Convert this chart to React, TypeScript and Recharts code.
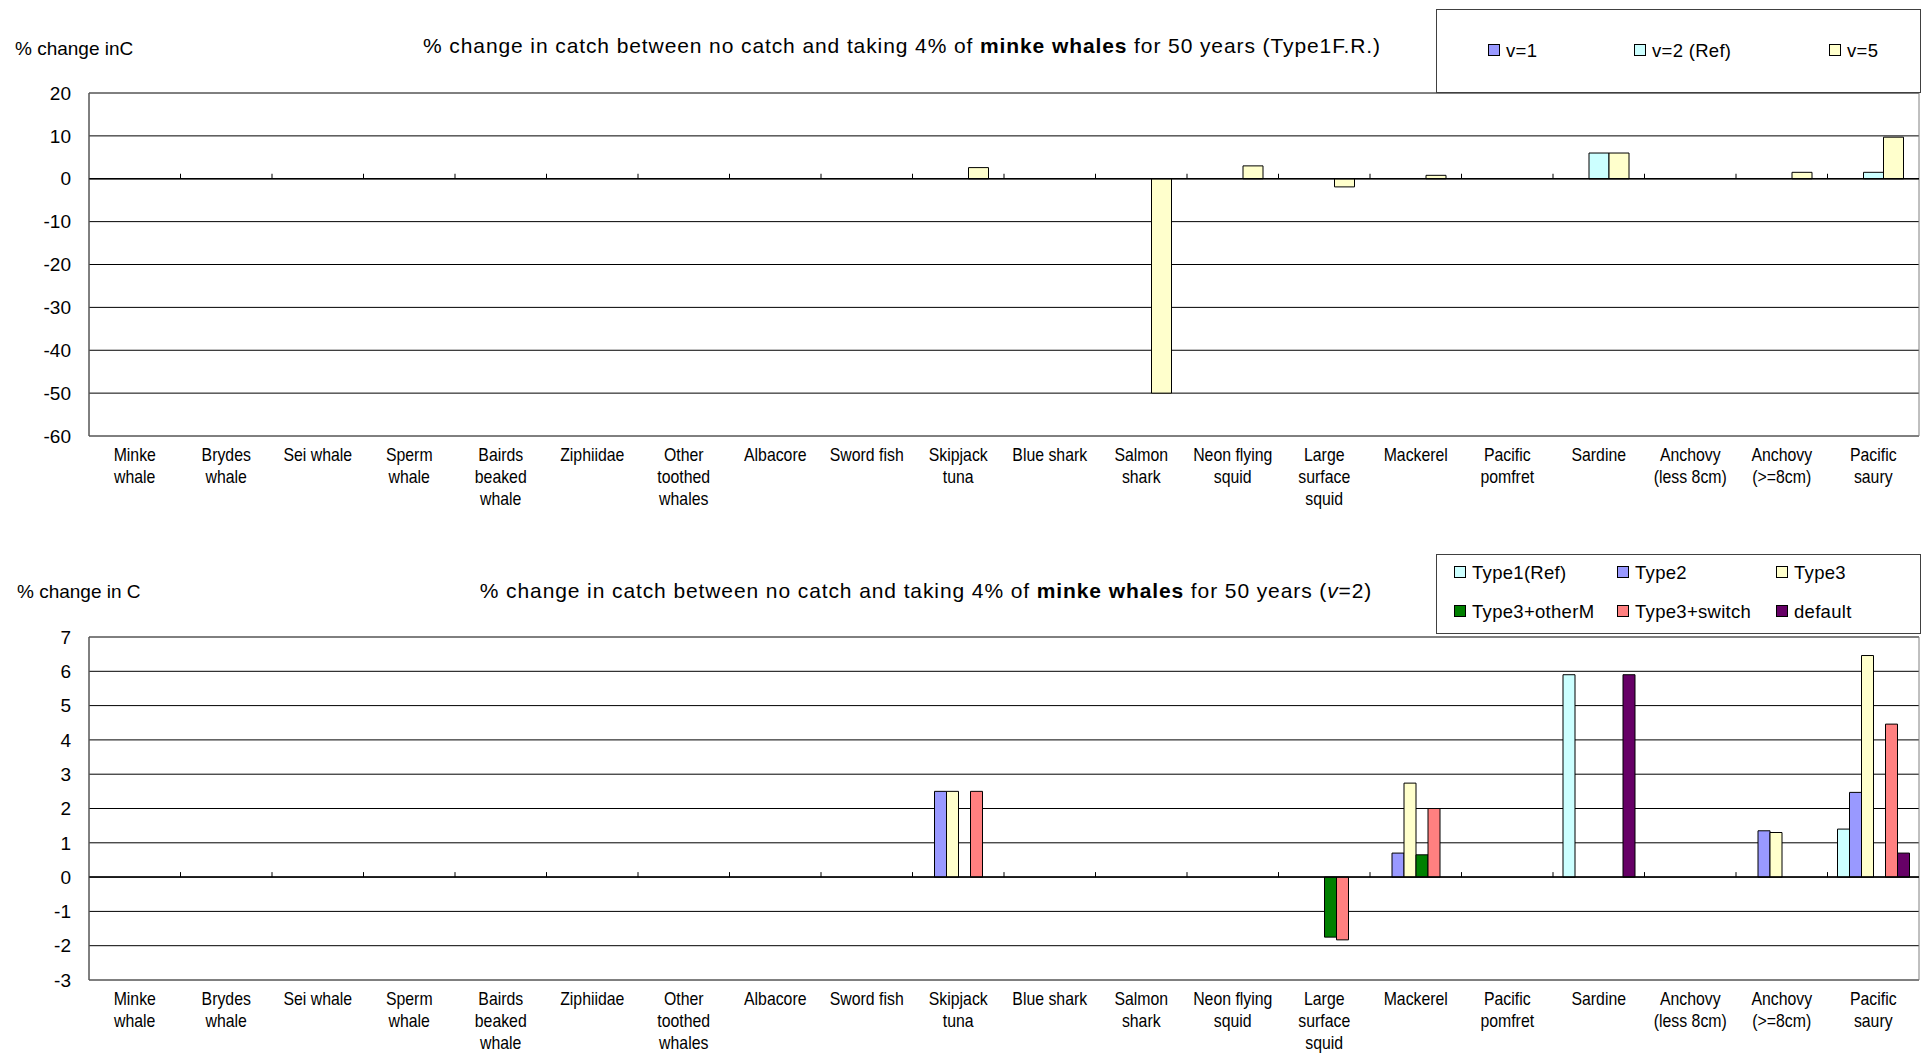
import React from 'react'
import { BarChart, Bar, XAxis, YAxis, CartesianGrid, ReferenceLine, ReferenceArea } from 'recharts'

const species = [
  'Minke\nwhale', 'Brydes\nwhale', 'Sei whale', 'Sperm\nwhale', 'Bairds\nbeaked\nwhale',
  'Ziphiidae', 'Other\ntoothed\nwhales', 'Albacore', 'Sword fish', 'Skipjack\ntuna',
  'Blue shark', 'Salmon\nshark', 'Neon flying\nsquid', 'Large\nsurface\nsquid', 'Mackerel',
  'Pacific\npomfret', 'Sardine', 'Anchovy\n(less 8cm)', 'Anchovy\n(>=8cm)', 'Pacific\nsaury',
]

// top chart: v sensitivity (Type1 F.R.)
const v1 = [0, 0, 0, 0, 0, 0, 0, 0, 0, 0, 0, 0, 0, 0, 0, 0, 0, 0, 0, 0]
const v2Ref = [0, 0, 0, 0, 0, 0, 0, 0, 0, 0, 0, 0, 0, 0, 0, 0, 6.0, 0, 0, 1.5]
const v5 = [0, 0, 0, 0, 0, 0, 0, 0, 0, 2.6, 0, -50, 3.0, -1.9, 0.8, 0, 6.0, 0, 1.5, 9.7]
const topTicks = [-60, -50, -40, -30, -20, -10, 0, 10, 20]

// bottom chart: functional response types (v=2)
const type1Ref = [0, 0, 0, 0, 0, 0, 0, 0, 0, 0, 0, 0, 0, 0, 0, 0, 5.9, 0, 0, 1.4]
const type2 = [0, 0, 0, 0, 0, 0, 0, 0, 0, 2.5, 0, 0, 0, 0, 0.7, 0, 0, 0, 1.35, 2.47]
const type3 = [0, 0, 0, 0, 0, 0, 0, 0, 0, 2.5, 0, 0, 0, 0, 2.74, 0, 0, 0, 1.3, 6.46]
const type3OtherM = [0, 0, 0, 0, 0, 0, 0, 0, 0, 0, 0, 0, 0, -1.75, 0.65, 0, 0, 0, 0, 0]
const type3Switch = [0, 0, 0, 0, 0, 0, 0, 0, 0, 2.5, 0, 0, 0, -1.83, 2.0, 0, 0, 0, 0, 4.46]
const defaultM = [0, 0, 0, 0, 0, 0, 0, 0, 0, 0, 0, 0, 0, 0, 0, 0, 5.9, 0, 0, 0.7]
const bottomTicks = [-3, -2, -1, 0, 1, 2, 3, 4, 5, 6, 7]

const topSeries = [
  { key: 'v1', name: 'v=1', color: '#9999FF' },
  { key: 'v2', name: 'v=2 (Ref)', color: '#CCFFFF' },
  { key: 'v5', name: 'v=5', color: '#FFFFCC' },
]
const bottomSeries = [
  { key: 't1', name: 'Type1(Ref)', color: '#CCFFFF' },
  { key: 't2', name: 'Type2', color: '#9999FF' },
  { key: 't3', name: 'Type3', color: '#FFFFCC' },
  { key: 't3m', name: 'Type3+otherM', color: '#008000' },
  { key: 't3s', name: 'Type3+switch', color: '#FF8080' },
  { key: 'def', name: 'default', color: '#660066' },
]

const topData = species.map((name, i) => ({ name, v1: v1[i], v2: v2Ref[i], v5: v5[i] }))
const bottomData = species.map((name, i) => ({
  name, t1: type1Ref[i], t2: type2[i], t3: type3[i], t3m: type3OtherM[i], t3s: type3Switch[i], def: defaultM[i],
}))

const sans = "'Liberation Sans', Arial, sans-serif"

// category labels, a bit condensed like the original
const SpeciesTick = ({ x, y, payload }: any) => {
  const lines = String(payload.value).split('\n')
  return (
    <g transform={`translate(${x},${y + 19}) scale(0.88,1)`}>
      <text x={0} y={0} textAnchor="middle" dominantBaseline="central" fontFamily={sans} fontSize={18} fill="#000">
        {lines.map((l, i) => (
          <tspan key={i} x={0} dy={i === 0 ? 0 : 22}>{l}</tspan>
        ))}
      </text>
    </g>
  )
}

// zero line with small category ticks pointing up
const zeroLine = (n: number) => (props: any) => {
  const { x1, x2, y1 } = props
  const step = (x2 - x1) / n
  const ticks = []
  for (let k = 1; k < n; k++) {
    const tx = x1 + k * step
    ticks.push(<line key={k} x1={tx} x2={tx} y1={y1} y2={y1 - 5} stroke="#000" />)
  }
  return (
    <g>
      <line x1={x1} x2={x2} y1={y1} y2={y1} stroke="#000" strokeWidth={1.5} />
      {ticks}
    </g>
  )
}

const Swatch = ({ color }: { color: string }) => (
  <span style={{ display: 'inline-block', width: 10, height: 10, background: color, border: '1px solid #000', marginRight: 6, verticalAlign: 'middle', position: 'relative', top: -2 }} />
)

const titleStyle = { position: 'absolute' as const, fontSize: 21, letterSpacing: 0.9, whiteSpace: 'nowrap' as const, transform: 'translateX(-50%)' }

export default function App() {
  return (
    <div style={{ position: 'absolute', left: 0, top: 0, width: 1921, height: 1054, overflow: 'hidden', background: '#fff', fontFamily: sans }}>
      {/* top chart */}
      <div style={{ position: 'absolute', left: 0, top: 0 }}>
        <BarChart width={1920} height={520} data={topData} margin={{ top: 93, right: 1, bottom: 40, left: 0 }} barGap={0}>
          <ReferenceArea y1={-60} y2={20} fill="none" stroke="#808080" />
          <CartesianGrid vertical={false} stroke="#000" />
          <XAxis dataKey="name" height={44} axisLine={false} tickLine={false} tickSize={0} tickMargin={0} interval={0} tick={<SpeciesTick />} />
          <YAxis domain={[-60, 20]} ticks={topTicks} width={89} axisLine={{ stroke: '#404040' }} tickLine={false} tickSize={0} tickMargin={18} tick={{ fontSize: 19, fill: '#000', fontFamily: sans }} />
          {topSeries.map((s) => (
            <Bar key={s.key} dataKey={s.key} fill={s.color} stroke="#000" strokeWidth={1} barSize={20} isAnimationActive={false} />
          ))}
          <ReferenceLine y={0} shape={zeroLine(species.length)} />
        </BarChart>
      </div>

      <div style={{ position: 'absolute', left: 15, top: 38, fontSize: 19 }}>% change inC</div>
      <div style={{ ...titleStyle, left: 902, top: 34 }}>
        % change in catch between no catch and taking 4% of <b>minke whales</b> for 50 years (Type1F.R.)
      </div>
      <div style={{ position: 'absolute', left: 1436, top: 9, width: 485, height: 84, boxSizing: 'border-box', border: '1px solid #404040', background: '#fff', fontSize: 18.5, letterSpacing: 0.3 }}>
        {topSeries.map((s, i) => (
          <div key={s.key} style={{ position: 'absolute', left: [51, 197, 392][i], top: 30, whiteSpace: 'nowrap' }}>
            <Swatch color={s.color} />{s.name}
          </div>
        ))}
      </div>

      {/* bottom chart */}
      <div style={{ position: 'absolute', left: 0, top: 540 }}>
        <BarChart width={1920} height={514} data={bottomData} margin={{ top: 97, right: 1, bottom: 0, left: 0 }} barGap={0}>
          <ReferenceArea y1={-3} y2={7} fill="none" stroke="#808080" />
          <CartesianGrid vertical={false} stroke="#000" />
          <XAxis dataKey="name" height={74} axisLine={false} tickLine={false} tickSize={0} tickMargin={0} interval={0} tick={<SpeciesTick />} />
          <YAxis domain={[-3, 7]} ticks={bottomTicks} width={89} axisLine={{ stroke: '#404040' }} tickLine={false} tickSize={0} tickMargin={18} tick={{ fontSize: 19, fill: '#000', fontFamily: sans }} />
          {bottomSeries.map((s) => (
            <Bar key={s.key} dataKey={s.key} fill={s.color} stroke="#000" strokeWidth={1} barSize={12} isAnimationActive={false} />
          ))}
          <ReferenceLine y={0} shape={zeroLine(species.length)} />
        </BarChart>
      </div>

      <div style={{ position: 'absolute', left: 17, top: 581, fontSize: 19 }}>% change in C</div>
      <div style={{ ...titleStyle, left: 926, top: 579 }}>
        % change in catch between no catch and taking 4% of <b>minke whales</b> for 50 years (<i>v</i>=2)
      </div>
      <div style={{ position: 'absolute', left: 1436, top: 554, width: 485, height: 80, boxSizing: 'border-box', border: '1px solid #404040', background: '#fff', fontSize: 18.5, letterSpacing: 0.3 }}>
        {bottomSeries.map((s, i) => (
          <div key={s.key} style={{ position: 'absolute', left: [17, 180, 339][i % 3], top: i < 3 ? 7 : 46, whiteSpace: 'nowrap' }}>
            <Swatch color={s.color} />{s.name}
          </div>
        ))}
      </div>
    </div>
  )
}
